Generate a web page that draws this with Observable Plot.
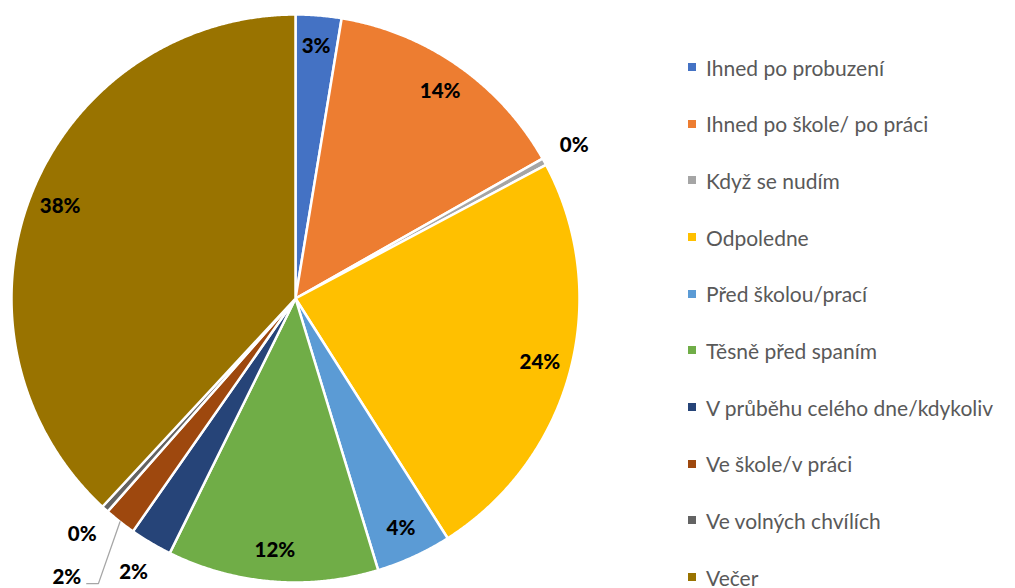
<!DOCTYPE html>
<html>
<head>
<meta charset="utf-8">
<script src="https://cdn.jsdelivr.net/npm/d3@7"></script>
<script src="https://cdn.jsdelivr.net/npm/@observablehq/plot@0.6"></script>
<style>
  html, body { margin: 0; padding: 0; background: #fff; }
  #wrap { position: relative; width: 1015px; height: 588px; overflow: hidden; }
  #legend { position: absolute; left: 688px; top: 0; font-family: Lato, "Open Sans", sans-serif; font-size: 21px; color: #595959; }
  .row { position: absolute; left: 0; white-space: nowrap; display: flex; align-items: center; height: 24px; }
  .sw { width: 8px; height: 8px; margin-right: 10px; }
</style>
</head>
<body>
<div id="wrap"><div id="chart"></div><div id="legend"></div></div>
<script>
const categories = [
  "Ihned po probuzení",
  "Ihned po škole/ po práci",
  "Když se nudím",
  "Odpoledne",
  "Před školou/prací",
  "Těsně před spaním",
  "V průběhu celého dne/kdykoliv",
  "Ve škole/v práci",
  "Ve volných chvílích",
  "Večer"
];
const shares = [2.6, 14.2, 0.4, 23.8, 4.3, 12.0, 2.4, 1.8, 0.4, 38.1];
const shownLabels = ["3%", "14%", "0%", "24%", "4%", "12%", "2%", "2%", "0%", "38%"];
const colors = ["#4472C4", "#ED7D31", "#A5A5A5", "#FFC000", "#5B9BD5", "#70AD47", "#264478", "#9E480E", "#636363", "#997300"];

const total = d3.sum(shares);
const pie = d3.pie().sort(null).value(d => d)(shares);
const polar = (r, a) => [r * Math.sin(a), r * Math.cos(a)];

// slice polygons computed from the data
const slicePts = [];
pie.forEach((p, i) => {
  const cat = categories[i];
  slicePts.push({cat, x: 0, y: 0});
  const n = Math.max(2, Math.ceil((p.endAngle - p.startAngle) / 0.005));
  for (let k = 0; k <= n; k++) {
    const a = p.startAngle + (p.endAngle - p.startAngle) * k / n;
    const [x, y] = polar(1, a);
    slicePts.push({cat, x, y});
  }
  slicePts.push({cat, x: 0, y: 0});
});

// labels: inside for big slices, outside for small ones
const labelPts = pie.map((p, i) => {
  const mid = (p.startAngle + p.endAngle) / 2;
  const big = shares[i] / total >= 0.025;
  const [x, y] = polar(big ? 0.89 : 1.12, mid);
  return {cat: categories[i], text: shownLabels[i], x, y};
});
// the "Ve škole/v práci" label is pulled away with a leader line
const moved = 7;
const midMoved = (pie[moved].startAngle + pie[moved].endAngle) / 2;
const [ex, ey] = polar(1.0, midMoved);
const leader = [
  {x: ex, y: ey},
  {x: -0.694, y: -1.004},
  {x: -0.735, y: -1.004}
];
labelPts[moved].x = -0.805;
labelPts[moved].y = -0.983;

const chart = Plot.plot({
  width: 1015,
  height: 588,
  margin: 0,
  x: {domain: [-1, 1], range: [11, 579], axis: null},
  y: {domain: [-1, 1], range: [582, 14], axis: null},
  color: {domain: categories, range: colors},
  marks: [
    Plot.line(slicePts, {x: "x", y: "y", z: "cat", fill: "cat", stroke: "white", strokeWidth: 2.5, strokeLinejoin: "round", curve: "linear"}),
    Plot.line(leader, {x: "x", y: "y", stroke: "#A6A6A6", strokeWidth: 1.3}),
    Plot.text(labelPts, {x: "x", y: "y", text: "text", fill: "black", fontSize: 20.5, fontWeight: 900, fontFamily: "Lato, 'Open Sans', sans-serif"})
  ]
});
document.getElementById("chart").appendChild(chart);

const legend = document.getElementById("legend");
categories.forEach((c, i) => {
  const row = document.createElement("div");
  row.className = "row";
  row.style.top = (67 + i * 56.67 - 12) + "px";
  const sw = document.createElement("div");
  sw.className = "sw";
  sw.style.background = colors[i];
  const t = document.createElement("span");
  t.textContent = c;
  row.appendChild(sw);
  row.appendChild(t);
  legend.appendChild(row);
});
</script>
</body>
</html>
